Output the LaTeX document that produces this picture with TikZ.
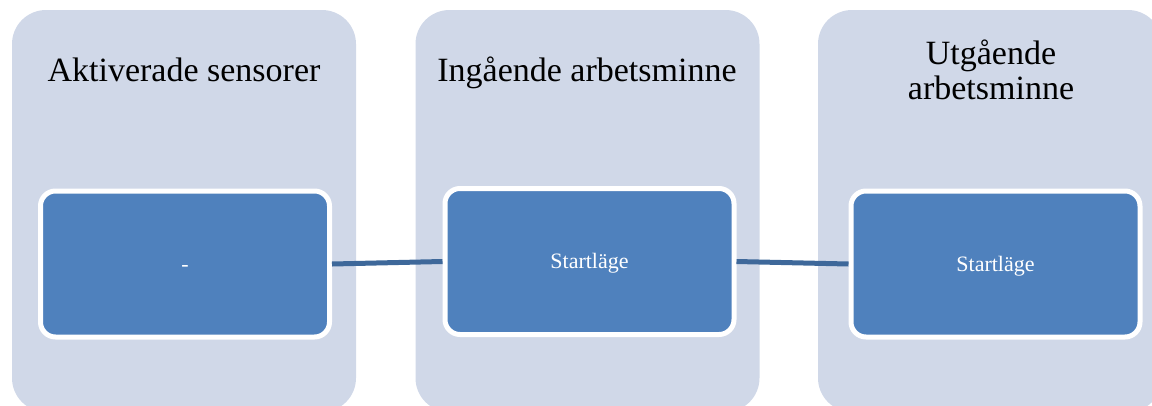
\documentclass[tikz,border=0pt]{standalone}
\usepackage{fontspec}
\setmainfont{Liberation Serif}
\definecolor{panelfill}{RGB}{208,216,232}
\definecolor{boxfill}{RGB}{79,129,189}
\definecolor{linkcol}{RGB}{62,104,154}
\tikzset{
  panel/.style={fill=panelfill, draw=none, rounded corners=34pt,
    minimum width=344pt, minimum height=402pt, inner sep=0pt},
  statebox/.style={fill=boxfill, draw=white, line width=5pt, rounded corners=15pt,
    minimum width=289pt, minimum height=146pt, inner sep=0pt, text=white,
    text height=16pt, text depth=2pt,
    font=\fontsize{22}{22}\selectfont},
  heading/.style={inner sep=0pt, align=center, font=\fontsize{34}{35}\selectfont},
  link/.style={draw=linkcol, line width=5pt}
}
\begin{document}
\begin{tikzpicture}[x=1pt,y=-1pt]
\useasboundingbox (0,0) rectangle (1152,405);
\clip (0,0) rectangle (1152,405);
% column panels
\node[panel] (p1) at (184,211) {};
\node[panel] (p2) at (587.5,211) {};
\node[panel] (p3) at (990,211) {};
% column headings
\node[heading, anchor=base] (h1) at (184,81) {Aktiverade sensorer};
\node[heading, anchor=base] (h2) at (587,81) {Ingående arbetsminne};
\node[heading] (h3) at (991,70) {Utgående\\arbetsminne};
% state boxes
\node[statebox] (b1) at (185,264) {-};
\node[statebox] (b2) at (589.5,261.5) {Startläge};
\node[statebox] (b3) at (995.5,264) {Startläge};
% connectors
\draw[link] (b1.east) -- (b2.west);
\draw[link] (b2.east) -- (b3.west);
\end{tikzpicture}
\end{document}
